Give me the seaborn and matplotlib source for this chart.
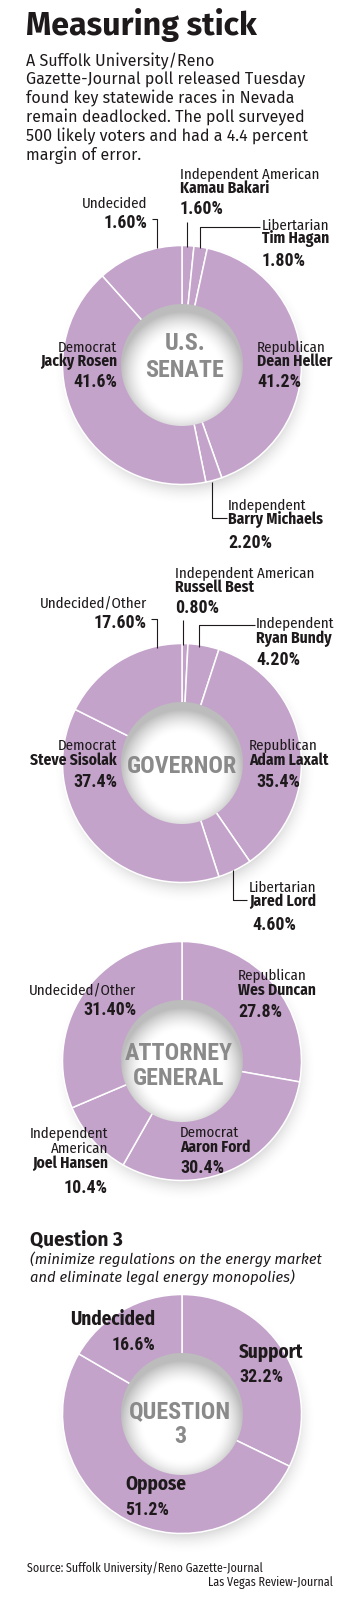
import numpy as np
import matplotlib
matplotlib.use("Agg")
import matplotlib.pyplot as plt
import seaborn as sns
from matplotlib import font_manager
from matplotlib.font_manager import FontProperties

# ---------------- data ----------------
senate_groups = ["Independent American", "Libertarian", "Republican", "Independent", "Democrat", "Undecided"]
senate_names = ["Kamau Bakari", "Tim Hagan", "Dean Heller", "Barry Michaels", "Jacky Rosen", ""]
senate_pct = ["1.60%", "1.80%", "41.2%", "2.20%", "41.6%", "1.60%"]
senate_share = [1.6, 1.8, 41.2, 2.2, 41.6, 11.6]  # wedge sizes as drawn in the graphic

gov_groups = ["Independent American", "Independent", "Republican", "Libertarian", "Democrat", "Undecided/Other"]
gov_names = ["Russell Best", "Ryan Bundy", "Adam Laxalt", "Jared Lord", "Steve Sisolak", ""]
gov_pct = ["0.80%", "4.20%", "35.4%", "4.60%", "37.4%", "17.60%"]
gov_share = [0.8, 4.2, 35.4, 4.6, 37.4, 17.6]

ag_groups = ["Republican", "Democrat", "Independent\nAmerican", "Undecided/Other"]
ag_names = ["Wes Duncan", "Aaron Ford", "Joel Hansen", ""]
ag_pct = ["27.8%", "30.4%", "10.4%", "31.40%"]
ag_share = [27.8, 30.4, 10.4, 31.4]

q3_groups = ["Support", "Oppose", "Undecided"]
q3_pct = ["32.2%", "51.2%", "16.6%"]
q3_share = [32.2, 51.2, 16.6]

title = "Measuring stick"
intro_lines = ["A Suffolk University/Reno",
               "Gazette-Journal poll released Tuesday",
               "found key statewide races in Nevada",
               "remain deadlocked. The poll surveyed",
               "500 likely voters and had a 4.4 percent",
               "margin of error."]
q3_title = "Question 3"
q3_sub = ["(minimize regulations on the energy market",
          "and eliminate legal energy monopolies)"]
source_lines = ["Source: Suffolk University/Reno Gazette-Journal", "Las Vegas Review-Journal"]

# ---------------- style ----------------
sns.set_theme(style="white")
TTF = font_manager.fontManager.ttflist


def pick(cands, weight="normal", style="normal"):
    for fam in cands:
        for f in TTF:
            if f.name != fam or f.style != style:
                continue
            w = f.weight if isinstance(f.weight, int) else 400
            if weight == "bold" and w >= 600 and "[" not in f.fname:
                return fam
            if weight == "normal" and w <= 500:
                return fam
    return "DejaVu Sans"


plt.rcParams["font.family"] = [pick(["Fira Sans", "Lato"]), "DejaVu Sans"]

PURPLE = "#c4a3cb"
INK = "#1e1a1c"
CENTER_GREY = "#8a8a8a"

W, H = 350, 1602
fig = plt.figure(figsize=(W / 100, H / 100), dpi=100)
fig.patch.set_facecolor("white")
ax = fig.add_axes([0, 0, 1, 1])
renderer = fig.canvas.get_renderer()


def make(fam, samples, weight="normal", style="normal"):
    sizes = []
    for s, wpx in samples:
        t = fig.text(0, 0, s, family=[fam, "DejaVu Sans"], weight=weight, style=style, fontsize=20)
        w = t.get_window_extent(renderer).width
        t.remove()
        sizes.append(20.0 * wpx / w)
    return FontProperties(family=[fam, "DejaVu Sans"], weight=weight, style=style, size=float(np.mean(sizes)))


F_WIDE = pick(["Fira Sans", "Lato", "Roboto"])
F_WIDE_B = pick(["Fira Sans", "Lato", "Roboto"], "bold")
F_SEMI = pick(["Fira Sans Condensed", "Barlow Semi Condensed", "Roboto Condensed"])
F_SEMI_B = pick(["Fira Sans Condensed", "Barlow Semi Condensed", "Roboto Condensed"], "bold")
F_COND_B = pick(["Roboto Condensed", "Barlow Condensed", "Fira Sans Condensed"], "bold")
F_ITAL = pick(["Fira Sans", "Lato", "Roboto", "Open Sans", "DejaVu Sans"], "normal", "italic")

STY = {
    "title": (make(F_WIDE_B, [("Measuring stick", 231)], "bold"), INK),
    "body": (make(F_WIDE, [("500 likely voters and had a 4.4 percent", 284),
                           ("Gazette-Journal poll released Tuesday", 277)]), INK),
    "lab": (make(F_SEMI, [("Independent American", 139), ("Undecided/Other", 107)]), INK),
    "name": (make(F_SEMI_B, [("Kamau Bakari", 86), ("Jacky Rosen", 82), ("Dean Heller", 73)], "bold"), INK),
    "pct": (make(F_COND_B, [("1.60%", 46), ("41.6%", 44), ("17.60%", 50)], "bold"), INK),
    "center": (make(F_COND_B, [("GOVERNOR", 107), ("SENATE", 81)], "bold"), CENTER_GREY),
    "qhead": (make(F_WIDE_B, [("Question 3", 93)], "bold"), INK),
    "qsub": (make(F_ITAL, [("(minimize regulations on the energy market", 292)], "normal", "italic"), INK),
    "qlab": (make(F_SEMI_B, [("Undecided", 83), ("Support", 66)], "bold"), INK),
    "src": (make(F_SEMI, [("Source: Suffolk University/Reno Gazette-Journal", 236)]), INK),
}


def T(x, y, s, sty, ha="left"):
    fp, col = STY[sty]
    ax.text(x, H - y, s, ha=ha, va="baseline", fontproperties=fp, color=col, zorder=6)


def L(pts):
    xs = [p[0] for p in pts]
    ys = [H - p[1] for p in pts]
    ax.plot(xs, ys, color=INK, lw=0.8, zorder=5, solid_capstyle="butt")


# ---------------- donuts ----------------
R, RH, CX = 119.5, 61, 182
centers = [(CX, 365), (CX, 763), (CX, 1061), (CX, 1414)]
shares = [senate_share, gov_share, ag_share, q3_share]

# soft drop shadows and shaded holes
yy, xx = np.mgrid[0:H, 0:W] + 0.5
shadow = np.zeros((H, W))
hole_g = np.ones((H, W))
hole_a = np.zeros((H, W))
for cx, cy in centers:
    d = np.hypot(xx - (cx + 3), yy - (cy + 9))
    s = np.clip((R + 12 - d) / 24, 0, 1)
    shadow = np.maximum(shadow, 0.45 * s ** 2)
    dh = np.hypot(xx - cx, yy - cy)
    a = np.clip(RH - dh + 0.5, 0, 1)
    d2 = RH - np.hypot(xx - cx, yy - (cy + 8))
    g = 1 - 0.26 * np.clip(1 - d2 / 22, 0, 1) ** 1.5
    hole_g = np.where(a > 0, g, hole_g)
    hole_a = np.maximum(hole_a, a)

sh_img = np.zeros((H, W, 4))
sh_img[..., :3] = 0.58
sh_img[..., 3] = shadow
ho_img = np.zeros((H, W, 4))
ho_img[..., 0] = hole_g
ho_img[..., 1] = hole_g
ho_img[..., 2] = hole_g
ho_img[..., 3] = hole_a

for (cx, cy), sh in zip(centers, shares):
    ax.pie(sh, colors=[PURPLE] * len(sh), startangle=90, counterclock=False,
           radius=R, center=(cx, H - cy),
           wedgeprops=dict(width=R - RH + 3, edgecolor="white", linewidth=1.1))

ax.imshow(sh_img, extent=(0, W, 0, H), origin="upper", zorder=0, interpolation="bilinear")
ax.imshow(ho_img, extent=(0, W, 0, H), origin="upper", zorder=3, interpolation="bilinear")

# ---------------- header ----------------
T(26, 35, title, "title")
for i, line in enumerate(intro_lines):
    T(26, 66 + i * 18.8, line, "body")

# ---------------- senate ----------------
sen_pos = [(180, "left", 179, 193, 214), (262, "left", 230, 243, 266), (257, "left", 352, 366, 387),
           (228, "left", 510, 524, 548), (117, "right", 352, 366, 387), (147, "right", 208, None, 228)]
for (x, ha, yg, yn, yp), g, n, p in zip(sen_pos, senate_groups, senate_names, senate_pct):
    T(x, yg, g, "lab", ha)
    if yn:
        T(x, yn, n, "name", ha)
    T(x, yp, p, "pct", ha)
L([(152, 218.5), (157, 218.5), (157, 248)])
L([(187, 222), (187, 247)])
L([(200, 248), (200, 227), (260, 227)])
L([(212, 482), (212, 518), (227, 518)])
T(185, 350, "U.S.", "center", "center")
T(185, 377, "SENATE", "center", "center")

# ---------------- governor ----------------
gov_pos = [(175, "left", 578, 592, 613), (256, "left", 628, 643, 665), (249, "left", 750, 765, 787),
           (249, "left", 892, 906, 930), (117, "right", 750, 765, 787), (147, "right", 608, None, 628)]
gov_pct_dx = [0, 0, 7, 3, 0, 0]
for (x, ha, yg, yn, yp), g, n, p, dx in zip(gov_pos, gov_groups, gov_names, gov_pct, gov_pct_dx):
    T(x, yg, g, "lab", ha)
    if yn:
        T(x, yn, n, "name", ha)
    T(x + dx, yp, p, "pct", ha)
L([(151, 618.5), (157, 618.5), (157, 648)])
L([(183, 620), (183, 645)])
L([(199, 647), (199, 625), (255, 625)])
L([(233, 870), (233, 900), (247, 900)])
T(182, 773, "GOVERNOR", "center", "center")

# ---------------- attorney general ----------------
ag_pos = [(238, "left", 980, 995, 1017), (180, "left", 1137, 1152, 1173),
          (108, "right", 1138, 1168, 1193), (136, "right", 995, None, 1015)]
for (x, ha, yg, yn, yp), g, n, p in zip(ag_pos, ag_groups, ag_names, ag_pct):
    for k, part in enumerate(g.split("\n")):
        T(x, yg + k * 15, part, "lab", ha)
    if yn:
        T(x, yn, n, "name", ha)
    T(x, yp, p, "pct", ha)
T(179, 1060, "ATTORNEY", "center", "center")
T(179, 1085, "GENERAL", "center", "center")

# ---------------- question 3 ----------------
T(30, 1245, q3_title, "qhead")
T(30, 1263.5, q3_sub[0], "qsub")
T(30, 1282, q3_sub[1], "qsub")
q3_pos = [(239, "left", 1358, 1382), (125, "left", 1490, 1515), (155, "right", 1325, 1350)]
for (x, ha, yg, yp), g, p in zip(q3_pos, q3_groups, q3_pct):
    T(x, yg, g, "qlab", ha)
    T(x, yp, p, "pct", ha)
T(180, 1418, "QUESTION", "center", "center")
T(180, 1443, "3", "center", "center")

# ---------------- source ----------------
T(27, 1572, source_lines[0], "src")
T(333, 1586, source_lines[1], "src", "right")

ax.set_xlim(0, W)
ax.set_ylim(0, H)
ax.set_aspect("auto")
ax.axis("off")
fig.savefig("out.png", dpi=100, facecolor="white")
